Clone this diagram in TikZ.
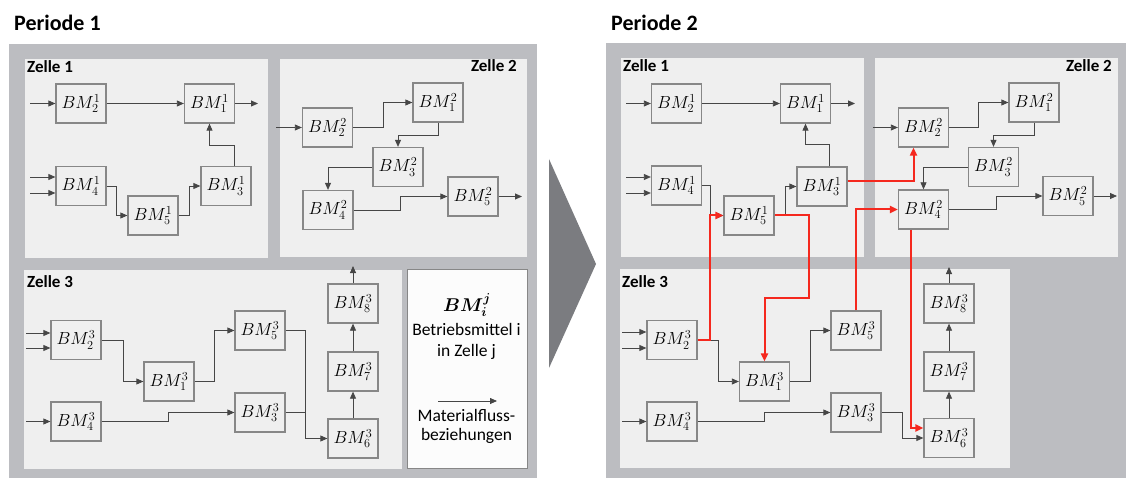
\RequirePackage{fix-cm}
\documentclass[tikz,border=0pt]{standalone}
\usepackage{amsmath}
\usepackage{bm}
\usepackage[no-math]{fontspec}
\setmainfont{Carlito}
\usetikzlibrary{arrows.meta}

\definecolor{panelgray}{RGB}{188,189,193}
\definecolor{cellfill}{RGB}{239,239,239}
\definecolor{boxline}{RGB}{135,135,135}
\definecolor{flowline}{RGB}{70,70,70}
\definecolor{chevron}{RGB}{123,124,128}
\definecolor{flowred}{RGB}{245,40,30}
\definecolor{legendfill}{RGB}{252,252,252}

\tikzset{
  panel/.style={fill=panelgray},
  cell/.style={fill=cellfill},
  bm/.style={draw=boxline, fill=cellfill, line width=1.3pt,
    minimum width=50pt, minimum height=39pt, inner sep=0pt,
    font=\fontsize{17.5}{18}\selectfont},
  flow/.style={draw=flowline, line width=0.8pt,
    -{Triangle[length=7pt,width=6pt]}},
  plain/.style={draw=flowline, line width=0.8pt},
  redflow/.style={draw=flowred, line width=2pt,
    -{Triangle[length=8pt,width=7pt]}},
  title/.style={inner sep=0pt, font=\fontsize{22}{24}\selectfont\bfseries},
  celllabel/.style={inner sep=0pt, font=\fontsize{17}{18}\selectfont\bfseries},
  legendtext/.style={inner sep=0pt, anchor=base, font=\fontsize{17.5}{18}\selectfont},
}

\begin{document}
\begin{tikzpicture}[x=1pt,y=-1pt]
\useasboundingbox (0,0) rectangle (1126,478);

% ---------- titles ----------
\node[title, anchor=base west] (p1) at (14,31) {Periode 1};
\node[title, anchor=base west] (p2) at (611,31) {Periode 2};

% ---------- background panels and cells ----------
\fill[panel] (9,44) rectangle (537,478);
\fill[panel] (606,43) rectangle (1126,478);

\fill[cell] (25,59) rectangle (268,258);
\fill[cell] (280,59) rectangle (527,257);
\fill[cell] (24,270) rectangle (402,469);
\filldraw[fill=legendfill, draw=boxline, line width=1pt] (407,269) rectangle (527,468);

\fill[cell] (621,58) rectangle (864,257);
\fill[cell] (875,58) rectangle (1118,257);
\fill[cell] (620,269) rectangle (1010,468);

% chevron between the periods
\fill[chevron] (549,159) -- (596,264) -- (549,368) -- cycle;

% ---------- cell labels ----------
\node[celllabel, anchor=base west] (z11) at (27,73) {Zelle 1};
\node[celllabel, anchor=base east] (z12) at (517,72) {Zelle 2};
\node[celllabel, anchor=base west] (z13) at (27,287) {Zelle 3};
\node[celllabel, anchor=base west] (z21) at (623,72) {Zelle 1};
\node[celllabel, anchor=base east] (z22) at (1112,72) {Zelle 2};
\node[celllabel, anchor=base west] (z23) at (622,287) {Zelle 3};

% ================= Periode 1 =================
% Zelle 1
\node[bm] (a12) at (81,103.5) {$BM_2^1$};
\node[bm] (a11) at (209.5,103.5) {$BM_1^1$};
\node[bm] (a14) at (81,186) {$BM_4^1$};
\node[bm] (a15) at (153,215.5) {$BM_5^1$};
\node[bm] (a13) at (226,186) {$BM_3^1$};
% Zelle 2
\node[bm] (a22) at (327.5,127.5) {$BM_2^2$};
\node[bm] (a21) at (438,102.5) {$BM_1^2$};
\node[bm] (a23) at (398,167) {$BM_3^2$};
\node[bm] (a24) at (328,210) {$BM_4^2$};
\node[bm] (a25) at (473,196.5) {$BM_5^2$};
% Zelle 3
\node[bm] (a32) at (76,340) {$BM_2^3$};
\node[bm] (a31) at (169,381.5) {$BM_1^3$};
\node[bm] (a34) at (76,421.5) {$BM_4^3$};
\node[bm] (a35) at (260,330.5) {$BM_5^3$};
\node[bm] (a33) at (260,412.5) {$BM_3^3$};
\node[bm] (a38) at (353,303.5) {$BM_8^3$};
\node[bm] (a37) at (353,371.5) {$BM_7^3$};
\node[bm] (a36) at (353,438.5) {$BM_6^3$};

% free ends of inputs and outputs
\coordinate (a12i) at (30,103.5);
\coordinate (a14i1) at (30,177);
\coordinate (a14i2) at (30,193);
\coordinate (a11o) at (258,103.5);
\coordinate (a22i) at (276,127.5);
\coordinate (a25o) at (522,196.5);
\coordinate (a32i1) at (26,333);
\coordinate (a32i2) at (26,348);
\coordinate (a34i) at (26,421.5);
\coordinate (a38o) at (353,266);

% Zelle 1 flows
\draw[flow] (a12i) -- (a12);
\draw[flow] (a12) -- (a11);
\draw[flow] (a11) -- (a11o);
\draw[flow] (a14i1) -- (a14i1 -| a14.west);
\draw[flow] (a14i2) -- (a14i2 -| a14.west);
\draw[flow] (a14.east) -| (116,215.5) -- (a15.west);
\draw[flow] (a15.east) -| (189,186) -- (a13.west);
\draw[flow] ([xshift=8pt]a13.north) |- (209.5,145) -- (a11.south);
% Zelle 2 flows
\draw[flow] (a22i) -- (a22);
\draw[flow] (a22.east) -| (383,102.5) -- (a21.west);
\draw[flow] (a21.south) |- (398,135) -- (a23.north);
\draw[flow] (a23.west) -| (a24.north);
\draw[flow] (a24.east) -| (400,196.5) -- (a25.west);
\draw[flow] (a25) -- (a25o);
% Zelle 3 flows
\draw[flow] (a32i1) -- (a32i1 -| a32.west);
\draw[flow] (a32i2) -- (a32i2 -| a32.west);
\draw[flow] (a32.east) -| (123,381.5) -- (a31.west);
\draw[flow] (a31.east) -| (214,330.5) -- (a35.west);
\draw[flow] (a34i) -- (a34);
\draw[flow] (a34.east) -| (168,412.5) -- (a33.west);
\draw[flow] (a35.east) -| (305,438.5) -- (a36.west);
\draw[plain] (a33.east) -- (305,412.5);
\draw[flow] (a36) -- (a37);
\draw[flow] (a37) -- (a38);
\draw[flow] (a38) -- (a38o);

% legend
\node[inner sep=0pt, anchor=base, font=\fontsize{18.5}{19}\selectfont] (lgbm) at (467,311) {$\bm{BM_i^j}$};
\node[legendtext] (lg1) at (466.5,335) {Betriebsmittel i};
\node[legendtext] (lg2) at (466.5,356) {in Zelle j};
\coordinate (lga) at (438,401);
\coordinate (lgb) at (497,401);
\draw[flow] (lga) -- (lgb);
\node[legendtext] (lg3) at (466.5,421) {Materialfluss-};
\node[legendtext] (lg4) at (466.5,440) {beziehungen};

% ================= Periode 2 =================
% Zelle 1
\node[bm] (b12) at (676.5,103.5) {$BM_2^1$};
\node[bm] (b11) at (805.5,103.5) {$BM_1^1$};
\node[bm] (b14) at (676.5,185.5) {$BM_4^1$};
\node[bm] (b15) at (749,215.5) {$BM_5^1$};
\node[bm] (b13) at (822,186.5) {$BM_3^1$};
% Zelle 2
\node[bm] (b22) at (923.5,127.5) {$BM_2^2$};
\node[bm] (b21) at (1034,102.5) {$BM_1^2$};
\node[bm] (b23) at (993.5,167) {$BM_3^2$};
\node[bm] (b24) at (923.5,209.5) {$BM_4^2$};
\node[bm] (b25) at (1068,196) {$BM_5^2$};
% Zelle 3
\node[bm] (b32) at (672,340) {$BM_2^3$};
\node[bm] (b31) at (764.5,381.5) {$BM_1^3$};
\node[bm] (b34) at (672,421.5) {$BM_4^3$};
\node[bm] (b35) at (856,330.5) {$BM_5^3$};
\node[bm] (b33) at (856,412.5) {$BM_3^3$};
\node[bm] (b38) at (949,303.5) {$BM_8^3$};
\node[bm] (b37) at (949,371.5) {$BM_7^3$};
\node[bm] (b36) at (949,438) {$BM_6^3$};

\coordinate (b12i) at (626,103.5);
\coordinate (b14i1) at (626,177);
\coordinate (b14i2) at (626,193);
\coordinate (b11o) at (855,103.5);
\coordinate (b22i) at (873,127.5);
\coordinate (b25o) at (1117,196);
\coordinate (b32i1) at (622,332);
\coordinate (b32i2) at (622,348);
\coordinate (b34i) at (622,421.5);
\coordinate (b38o) at (949,267);

% Zelle 1 flows
\draw[flow] (b12i) -- (b12);
\draw[flow] (b12) -- (b11);
\draw[flow] (b11) -- (b11o);
\draw[flow] (b14i1) -- (b14i1 -| b14.west);
\draw[flow] (b14i2) -- (b14i2 -| b14.west);
\draw[flow] (b14.east) -| (710,215.5) -- (b15.west);
\draw[flow] (b15.east) -| (785,186.5) -- (b13.west);
\draw[flow] ([xshift=7pt]b13.north) |- (805.5,144) -- (b11.south);
% Zelle 2 flows
\draw[flow] (b22i) -- (b22);
\draw[flow] (b22.east) -| (978,102.5) -- (b21.west);
\draw[flow] (b21.south) |- (993.5,135) -- (b23.north);
\draw[flow] (b23.west) -| (b24.north);
\draw[flow] (b24.east) -| (996,196) -- (b25.west);
\draw[flow] (b25) -- (b25o);
% Zelle 3 flows
\draw[flow] (b32i1) -- (b32i1 -| b32.west);
\draw[flow] (b32i2) -- (b32i2 -| b32.west);
\draw[flow] (b32.east) -| (718,381.5) -- (b31.west);
\draw[flow] (b31.east) -| (810,330.5) -- (b35.west);
\draw[flow] (b34i) -- (b34);
\draw[flow] (b34.east) -| (764,412.5) -- (b33.west);
\draw[flow] (b33.east) -| (902,438) -- (b36.west);
\draw[flow] (b36) -- (b37);
\draw[flow] (b37) -- (b38);
\draw[flow] (b38) -- (b38o);

% cross-cell flows
\draw[redflow] (b32.east) -| (710,215.5) -- (b15.west);
\draw[redflow] (b15.east) -| (809,298) -| (b31.north);
\draw[redflow] ([yshift=5pt]b13.east) -| ([xshift=-10pt]b22.south);
\draw[redflow] (b35.north) |- (b24.west);
\draw[redflow] ([xshift=-13pt]b24.south) |- ([yshift=10pt]b36.west);

\end{tikzpicture}
\end{document}
